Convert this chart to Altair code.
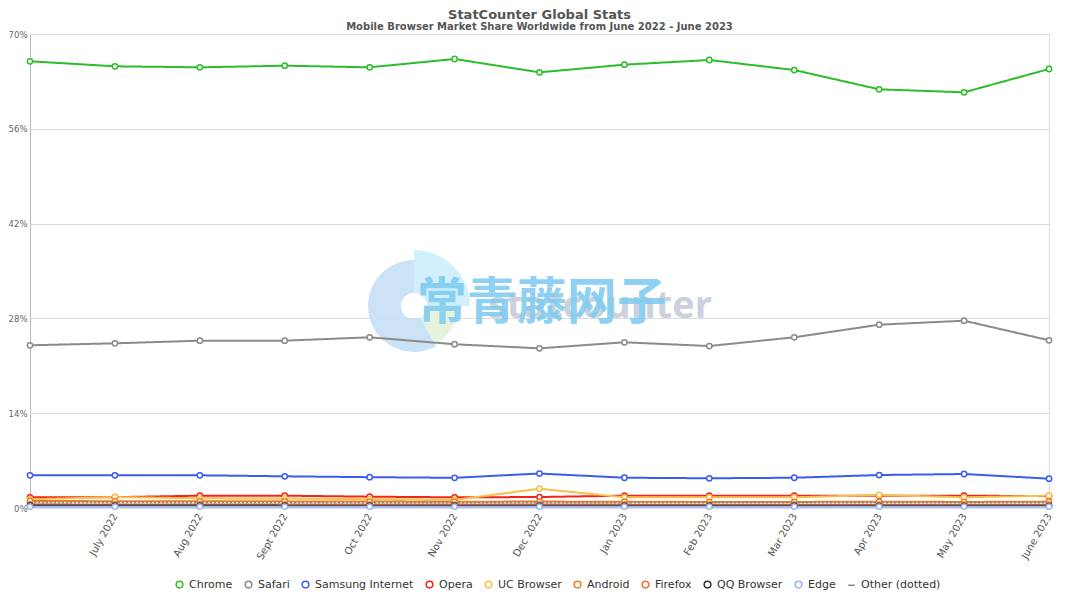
import altair as alt
import pandas as pd
import math

months = ["June 2022", "July 2022", "Aug 2022", "Sept 2022", "Oct 2022", "Nov 2022",
          "Dec 2022", "Jan 2023", "Feb 2023", "Mar 2023", "Apr 2023", "May 2023", "June 2023"]
browsers = ["Chrome", "Safari", "Samsung Internet", "Opera", "UC Browser", "Android",
            "Firefox", "QQ Browser", "Edge", "Other (dotted)"]
colors = ["#2cbd2c", "#8a8a8a", "#3b5bf5", "#f2231a", "#f7c04a", "#ee7d22",
          "#f27030", "#333333", "#9ab4f0", "#8a8a8a"]

chrome = [65.97, 65.23, 65.08, 65.32, 65.08, 66.31, 64.34, 65.47, 66.16, 64.68, 61.83, 61.39, 64.83]
safari = [24.03, 24.32, 24.71, 24.71, 25.21, 24.18, 23.58, 24.47, 23.92, 25.21, 27.07, 27.66, 24.77]
samsung = [4.83, 4.83, 4.83, 4.68, 4.55, 4.46, 5.09, 4.47, 4.39, 4.47, 4.87, 5.02, 4.33]
opera = [1.58, 1.60, 1.82, 1.82, 1.67, 1.58, 1.62, 1.82, 1.82, 1.82, 1.82, 1.82, 1.75]
uc = [1.28, 1.62, 1.43, 1.40, 1.30, 1.20, 2.85, 1.58, 1.58, 1.58, 1.92, 1.58, 1.82]
android = [1.05, 1.00, 1.00, 0.98, 0.95, 0.93, 0.95, 0.92, 0.90, 0.90, 0.92, 0.90, 0.92]
firefox = [0.55, 0.52, 0.52, 0.50, 0.50, 0.50, 0.50, 0.50, 0.48, 0.48, 0.48, 0.48, 0.48]
qq = [0.38, 0.36, 0.36, 0.35, 0.35, 0.35, 0.34, 0.34, 0.33, 0.33, 0.32, 0.32, 0.32]
edge = [0.20, 0.20, 0.20, 0.20, 0.20, 0.20, 0.20, 0.20, 0.20, 0.20, 0.20, 0.20, 0.20]
other = [0.85, 0.85, 0.82, 0.82, 0.80, 0.80, 0.80, 0.80, 0.80, 0.80, 0.80, 0.80, 0.80]

series = [chrome, safari, samsung, opera, uc, android, firefox, qq, edge, other]

rows = []
for b, vals in zip(browsers, series):
    for i, v in enumerate(vals):
        rows.append({"browser": b, "idx": i, "share": v})
df = pd.DataFrame(rows)

font = "DejaVu Sans"
label_expr = "[" + ",".join("'" + m + "'" for m in months) + "][datum.value]"

x = alt.X("idx:Q", scale=alt.Scale(domain=[0, 12], nice=False, zero=False),
          axis=alt.Axis(values=list(range(1, 13)), labelExpr=label_expr, title=None,
                        grid=False, labelAngle=-60, labelAlign="right", labelBaseline="middle",
                        labelColor="#555555", labelFontSize=10, labelFont=font,
                        domain=False, ticks=False, labelPadding=6))
y = alt.Y("share:Q", scale=alt.Scale(domain=[0, 70], nice=False),
          axis=alt.Axis(values=[0, 14, 28, 42, 56, 70], labelExpr="datum.value + '%'",
                        title=None, grid=True, gridColor="#dddddd", domain=True,
                        domainColor="#bbbbbb", ticks=False, labelColor="#666666",
                        labelFontSize=8.5, labelFont=font, labelPadding=3))

leg = dict(title=None, orient="none", legendX=144, legendY=545,
           direction="horizontal", labelFont=font, labelFontSize=11,
           labelColor="#333333", symbolSize=45, symbolStrokeWidth=1.5,
           columnPadding=9, symbolOffset=0, labelOffset=4)
color = alt.Color("browser:N", scale=alt.Scale(domain=browsers, range=colors),
                  legend=alt.Legend(**leg))
shape = alt.Shape("browser:N", scale=alt.Scale(domain=browsers,
                                                range=["circle"] * 9 + ["stroke"]),
                  legend=alt.Legend(**leg))

lines = alt.Chart(df).mark_line(strokeWidth=2).encode(
    x=x, y=y, color=color, detail="browser:N",
    strokeDash=alt.condition(alt.datum.browser == "Other (dotted)",
                             alt.value([2, 2]), alt.value([1, 0])),
    order=alt.Order("idx:Q"))

points = alt.Chart(df).transform_filter(
    alt.datum.browser != "Other (dotted)"
).mark_point(filled=False, fill="white", fillOpacity=1, size=28, strokeWidth=1.5,
             opacity=1).encode(x=x, y=y, color=color, shape=shape)

# faint background watermark (logo ring + texts)
TAU = 2 * math.pi
logo_segments = [
    (0.0, TAU * 0.25, 56, "#cdeefc"),
    (TAU * 0.25, TAU * 0.42, 44, "#e2f2dc"),
    (TAU * 0.42, TAU, 46, "#c6dff5"),
]
one = pd.DataFrame({"k": [0]})
logo_layers = [
    alt.Chart(one).mark_arc(innerRadius=13, radius=r, theta=t1, theta2=t2, color=c,
                            opacity=0.9).encode(x=alt.value(384), y=alt.value(272))
    for (t1, t2, r, c) in logo_segments
]

wm_df = pd.DataFrame({"t": ["statcounter"]})
wm1 = alt.Chart(wm_df).mark_text(font="Open Sans", fontSize=38, fontWeight="bold",
                                 color="#c3cad8", opacity=0.85, align="center",
                                 baseline="middle").encode(
    text="t:N", x=alt.value(570), y=alt.value(273))
wm2_df = pd.DataFrame({"t": ["常青藤网子"]})
wm2 = alt.Chart(wm2_df).mark_text(font="Noto Sans CJK SC", fontSize=50, fontWeight="bold",
                                  color="#7ccaf0", opacity=0.85, align="center",
                                  baseline="middle").encode(
    text="t:N", x=alt.value(512), y=alt.value(270))

chart = alt.layer(*logo_layers, wm1, wm2, lines, points).resolve_legend(
    color="shared", shape="shared"
).properties(
    width=1019, height=474,
    title=alt.Title("StatCounter Global Stats",
                    subtitle="Mobile Browser Market Share Worldwide from June 2022 - June 2023",
                    anchor="middle", font=font, fontSize=13, fontWeight="bold", color="#555555",
                    subtitleFont=font, subtitleFontSize=10, subtitleFontWeight="bold",
                    subtitleColor="#555555", offset=-2, subtitlePadding=0),
    autosize=alt.AutoSizeParams(type="none"),
    padding={"left": 22, "top": 26, "right": 20, "bottom": 90},
).configure_view(stroke="#cccccc", strokeWidth=1).configure(background="white")

chart.save("out.html", embed_options={"renderer": "svg", "actions": False})
